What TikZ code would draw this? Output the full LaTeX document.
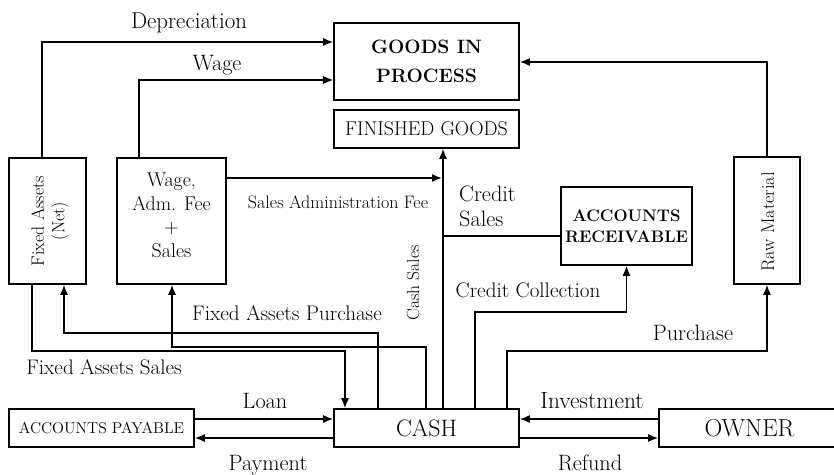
\documentclass[tikz,border=0pt]{standalone}
\usepackage{tikz}
\usetikzlibrary{arrows.meta}

\begin{document}
\begin{tikzpicture}[
            x=0.3mm, y=-0.3mm,
            box/.style={draw, line width=1.3pt, inner sep=0pt, align=center},
            flow/.style={-{Latex[length=3mm,width=2.4mm]}, line width=1.3pt},
            line/.style={line width=1.3pt},
            lbl/.style={inner sep=0pt, font=\fontsize{19}{22}\selectfont},
            ]
            \useasboundingbox (0,0) rectangle (834,475);
            \clip (0,0) rectangle (834,475);

            % boxes
            \node[box, minimum width=55.5mm, minimum height=23.1mm, font=\bfseries\fontsize{16.5}{25}\selectfont] (gip) at (426.5,61.5) {GOODS IN\\PROCESS};
            \node[box, minimum width=55.5mm, minimum height=11.4mm, font=\fontsize{17}{19}\selectfont] (fg) at (426.5,129) {FINISHED GOODS};
            \node[box, minimum width=23.1mm, minimum height=37.8mm] (fa) at (47.5,221) {};
            \node[rotate=90, align=center, inner sep=0pt, font=\fontsize{15.2}{17.5}\selectfont] (fatext) at (50,221) {Fixed Assets\\(Net)};
            \node[box, minimum width=32.7mm, minimum height=37.8mm, font=\fontsize{17}{20}\selectfont] (wb) at (171.5,221) {Wage,\\Adm. Fee\\+\\Sales\rule[-3.5mm]{0pt}{0pt}};
            \node[box, minimum width=39.3mm, minimum height=23.4mm, font=\bfseries\fontsize{14.3}{18}\selectfont] (ar) at (626.5,226) {ACCOUNTS\\RECEIVABLE};
            \node[box, minimum width=19.8mm, minimum height=38.1mm] (rm) at (767,220.5) {};
            \node[rotate=90, inner sep=0pt, font=\fontsize{15.6}{17}\selectfont] (rmtext) at (768,222) {Raw Material};
            \node[box, minimum width=55.5mm, minimum height=11.4mm, font=\fontsize{13.4}{15}\selectfont] (ap) at (101.5,428) {ACCOUNTS PAYABLE};
            \node[box, minimum width=55.5mm, minimum height=11.4mm, font=\fontsize{20.3}{22}\selectfont] (cash) at (426.5,428) {CASH};
            \node[box, minimum width=54.3mm, minimum height=11.4mm, font=\fontsize{21}{23}\selectfont] (owner) at (749.5,428) {OWNER};

            % lanes
            \coordinate (dep) at (42,42);
            \coordinate (wg) at (139,80);
            \coordinate (rw) at (767,62);
            \coordinate (saf) at (442,178);
            \coordinate (cs) at (443,0);
            \coordinate (crs) at (443,236);
            \coordinate (cc) at (475,312);
            \coordinate (pu) at (507,351);
            \coordinate (fas) at (32,351);
            \coordinate (fasc) at (345,351);
            \coordinate (fap) at (378,333);
            \coordinate (fapa) at (64,333);
            \coordinate (wp) at (426,347);
            \coordinate (wpa) at (172,347);
            \coordinate (ln) at (0,419);
            \coordinate (pm) at (0,438);

            % connectors
            \draw[flow] (fa.north -| dep) |- (gip.west |- dep);
            \draw[flow] (wb.north -| wg) |- (gip.west |- wg);
            \draw[flow] (rm.north) |- (gip.east |- rw);
            \draw[flow] (wb.east |- saf) -- (saf);
            \draw[flow] (cash.north -| cs) -- (fg.south -| cs);
            \draw[line] (ar.west |- crs) -- (crs);
            \draw[flow] (cash.north -| cc) |- (ar.south |- cc) -- (ar.south);
            \draw[flow] (cash.north -| pu) |- (rm.south |- pu) -- (rm.south);
            \draw[flow] (fa.south -| fas) -- (fas) -- (fasc) -- (cash.north -| fasc);
            \draw[flow] (cash.north -| fap) -- (fap) -- (fapa) -- (fa.south -| fapa);
            \draw[flow] (cash.north -| wp) -- (wp) -- (wpa) -- (wb.south -| wpa);
            \draw[flow] (ap.east |- ln) -- (cash.west |- ln);
            \draw[flow] (cash.west |- pm) -- (ap.east |- pm);
            \draw[flow] (owner.west |- ln) -- (cash.east |- ln);
            \draw[flow] (cash.east |- pm) -- (owner.west |- pm);

            % labels
            \node[lbl, font=\fontsize{19.5}{22}\selectfont] (ldep) at (189,23) {Depreciation};
            \node[lbl] (lwg) at (217,65) {Wage};
            \node[lbl, font=\fontsize{15.4}{18}\selectfont] (lsaf) at (338,202) {Sales Administration Fee};
            \node[lbl, rotate=90, font=\fontsize{15}{17}\selectfont] (lcs) at (413,283) {Cash Sales};
            \node[lbl, anchor=west, align=left, font=\fontsize{19}{21.5}\selectfont] (lcrs) at (459,206) {Credit\\Sales};
            \node[lbl, font=\fontsize{18}{21}\selectfont] (lcc) at (528,290) {Credit Collection};
            \node[lbl] (lpu) at (693,333) {Purchase};
            \node[lbl, font=\fontsize{18}{21}\selectfont] (lfap) at (287,313) {Fixed Assets Purchase};
            \node[lbl, font=\fontsize{18}{21}\selectfont] (lfas) at (104,367) {Fixed Assets Sales};
            \node[lbl] (lln) at (265,401) {Loan};
            \node[lbl] (lpm) at (268,465) {Payment};
            \node[lbl] (lrf) at (590,463) {Refund};
            \node[lbl, font=\fontsize{20}{22}\selectfont] (linv) at (592,401) {Investment};
        \end{tikzpicture}
\end{document}
